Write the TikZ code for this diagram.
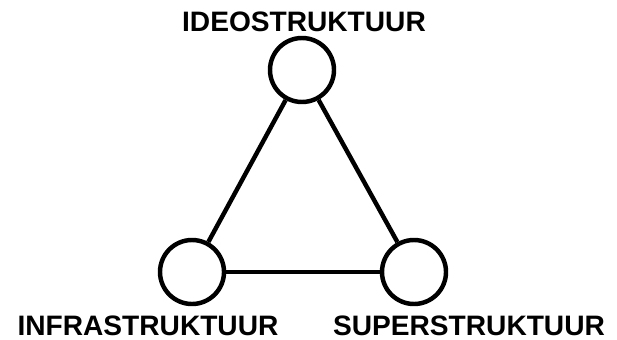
\documentclass[tikz,border=0pt]{standalone}
\usepackage{fontspec}
\newfontfamily\strukfont{Liberation Sans}
\usepackage{tikz}
\tikzset{
  pole/.style={circle, draw=black, line width=3.8pt, minimum size=1.92cm, inner sep=0pt},
  strukname/.style={font=\strukfont\bfseries\fontsize{24}{24}\selectfont, inner sep=0pt},
  link/.style={line width=3.8pt}
}
\begin{document}
\begin{tikzpicture}[x=0.03cm, y=-0.03cm]

  % canvas
  \useasboundingbox (0,0) rectangle (617,340);

  % the three poles
  \node[pole] (ideo) at (302,70) {};
  \node[pole] (infra) at (192,272) {};
  \node[pole] (super) at (414,272) {};

  % links
  \draw[link] (ideo) -- (infra);
  \draw[link] (ideo) -- (super);
  \draw[link] (infra) -- (super);

  % names
  \node[strukname] (ideoname) at (304,22) {IDEOSTRUKTUUR};
  \node[strukname] (infraname) at (148,326) {INFRASTRUKTUUR};
  \node[strukname] (supername) at (469,326) {SUPERSTRUKTUUR};

\end{tikzpicture}
\end{document}
